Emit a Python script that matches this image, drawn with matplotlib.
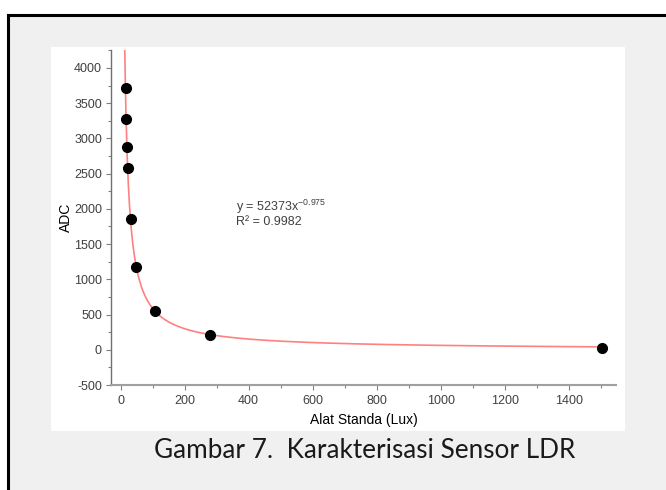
import numpy as np
import matplotlib.pyplot as plt
from matplotlib.patches import Rectangle
from matplotlib.lines import Line2D
from matplotlib.ticker import MultipleLocator

plt.rcParams["font.family"] = ["Liberation Sans", "DejaVu Sans"]
plt.rcParams["mathtext.fontset"] = "custom"
plt.rcParams["mathtext.rm"] = "Liberation Sans"
plt.rcParams["mathtext.it"] = "Liberation Sans"
plt.rcParams["axes.unicode_minus"] = False

# measured lux vs ADC readings
lux = [16.6, 17.6, 20.8, 22.8, 34, 49, 109, 279, 1503]
adc = [3712, 3277, 2884, 2586, 1858, 1173, 557, 208, 28]

# power trendline shown on the chart
fit_a = 52373
fit_b = -0.975
fit_r2 = 0.9982

W, H = 666, 490


def px_rect(x0, y0, x1, y1, **kw):
    # rectangle given in image pixels (top-left origin)
    return Rectangle((x0 / W, 1 - y1 / H), (x1 - x0) / W, (y1 - y0) / H,
                     transform=fig.transFigure, **kw)


fig = plt.figure(figsize=(W / 100, H / 100), dpi=100, facecolor="white")
fig.patches.append(px_rect(8, 15, 666, 490, facecolor="#f0f0f0", edgecolor="none", zorder=-3))
fig.patches.append(px_rect(51, 47, 625, 431, facecolor="white", edgecolor="none", zorder=-2))
fig.lines.append(Line2D([8 / W, 1], [1 - 15 / H] * 2, transform=fig.transFigure,
                        color="black", linewidth=2.2, zorder=-1))
fig.lines.append(Line2D([8 / W] * 2, [0, 1 - 15 / H], transform=fig.transFigure,
                        color="black", linewidth=2.2, zorder=-1))

ax = fig.add_axes([111 / W, 1 - 385 / H, (616 - 111) / W, (385 - 50) / H])
ax.set_zorder(5)
ax.set_facecolor("none")

xs = np.linspace(13.0, max(lux), 800)
ax.plot(xs, fit_a * xs ** fit_b, color="#ff8080", linewidth=1.2, zorder=2)
ax.plot(lux, adc, "o", color="black", markersize=7, zorder=3)

ax.set_xlim(-30, 1548)
ax.set_ylim(-500, 4255)
ax.xaxis.set_major_locator(MultipleLocator(200))
ax.xaxis.set_minor_locator(MultipleLocator(100))
ax.yaxis.set_major_locator(MultipleLocator(500))
ax.yaxis.set_minor_locator(MultipleLocator(250))

for side in ("top", "right"):
    ax.spines[side].set_visible(False)
ax.spines["left"].set_color("#707070")
ax.spines["bottom"].set_color("#a0a0a0")
ax.spines["left"].set_linewidth(1.0)
ax.spines["bottom"].set_linewidth(1.5)
ax.tick_params(axis="both", which="major", length=3.5, width=0.8, color="#808080",
               labelsize=9, labelcolor="#404040", pad=3)
ax.tick_params(axis="both", which="minor", length=2, width=0.8, color="#808080")
ax.tick_params(axis="x", which="major", pad=4)

ax.set_xlabel("Alat Standa (Lux)", fontsize=10, color="black", labelpad=4)
ax.set_ylabel("ADC", fontsize=10, color="black", labelpad=1)

ax.text(360, 1976, r"y = 52373x$^{%s}$" % ("-0.975"), fontsize=9, color="#404040",
        va="baseline", ha="left")
ax.text(360, 1976 - 14 / 35.25 * 500, f"R\u00b2 = {fit_r2}", fontsize=9,
        color="#404040", va="baseline", ha="left")

fig.text(365 / W, 1 - 450 / H, "Gambar 7.  Karakterisasi Sensor LDR",
         family=["Lato", "DejaVu Sans"], fontsize=18.8, color="#1a1a1a",
         ha="center", va="center")

fig.savefig("out.png", dpi=100)
